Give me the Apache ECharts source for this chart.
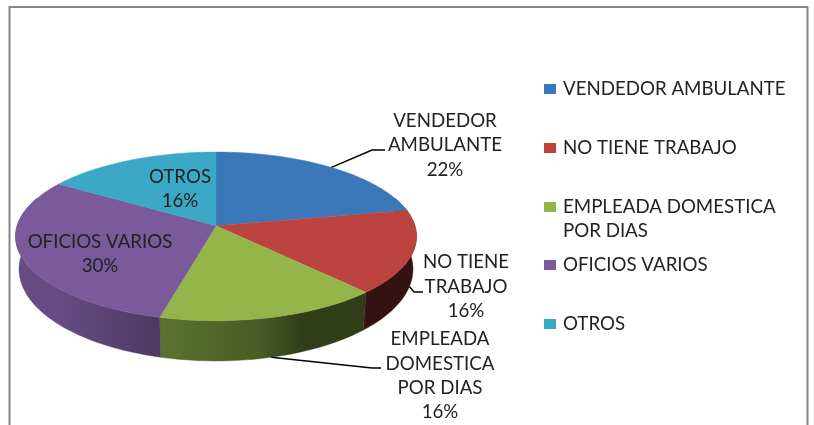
<!DOCTYPE html>
<html><head><meta charset="utf-8">
<style>html,body{margin:0;padding:0;background:#fff}#c{width:814px;height:425px;filter:blur(0.45px)}</style>
<script src="https://cdn.jsdelivr.net/npm/echarts@6/dist/echarts.min.js"></script>
</head><body><div id="c"></div>
<script>
const categories = ['VENDEDOR AMBULANTE','NO TIENE TRABAJO','EMPLEADA DOMESTICA POR DIAS','OFICIOS VARIOS','OTROS'];
const shares = [22,16,16,30,16];
const colors = ['#3b78b9','#bd4340','#94b54a','#7a5a9b','#3ba8c5'];
const sliceLabels = ['VENDEDOR\nAMBULANTE','NO TIENE\nTRABAJO','EMPLEADA\nDOMESTICA\nPOR DIAS','OFICIOS VARIOS','OTROS'];

const FONT = '"Lato","Open Sans",sans-serif';
const labelPos = [[445,145.2],[466,286.7],[440,375.7],[100,253.7],[180,188.7]];
const leaders = [[[372,150],[385,150]],[[414,292],[423,292]],[[372,368],[381,368]],null,null];
const legendTop = [88,147,206,264,323];

// perspective projection of the pie's circular rim
const APEX=[216,225.7], A=198.9, B=83, K=0.1263, LOWER_SX=0.9825, LOWER_SY=1.089, LOWER_D=31.8;
function rim(deg,lower){
  const t=deg*Math.PI/180,u=Math.sin(t),v=-Math.cos(t),d=1-K*v;
  const X=A*u/d,Y=B*v/d;
  return lower?[APEX[0]+LOWER_SX*X,APEX[1]+LOWER_D+LOWER_SY*Y]:[APEX[0]+X,APEX[1]+Y];
}
const shadeStops=[[15,.84],[60,.84],[100,.76],[160,.63],[260,.5],[300,.34],[364,.33],[367,.27],[416,.27]];
function shade(hex,f){
  const n=parseInt(hex.slice(1),16);
  return 'rgb('+[(n>>16)&255,(n>>8)&255,n&255].map(c=>Math.round(c*f)).join(',')+')';
}
function wallFill(hex){
  const x0=shadeStops[0][0],x1=shadeStops[shadeStops.length-1][0];
  return {type:'linear',global:true,x:x0,y:0,x2:x1,y2:0,
    colorStops:shadeStops.map(s=>({offset:(s[0]-x0)/(x1-x0),color:shade(hex,s[1])}))};
}
const VIS0=70,VIS1=290;
function arc(a,b,lower){const pts=[],n=Math.max(2,Math.ceil((b-a)/1.5));
  for(let i=0;i<=n;i++)pts.push(rim(a+(b-a)*i/n,lower));return pts;}

const total=shares.reduce((a,b)=>a+b,0);
let acc=0;
const series=categories.map((name,i)=>{
  const start=acc;acc+=shares[i];
  return {type:'custom',name,coordinateSystem:'none',itemStyle:{color:colors[i]},
    data:[[start,shares[i]]],
    renderItem(p,api){
      const a=api.value(0)/total*360,b=a+api.value(1)/total*360,mid=(a+b)/2,kids=[];
      const wa=Math.max(a,VIS0),wb=Math.min(b,VIS1);
      if(wb>wa){
        const pts=arc(wa,wb,false).concat(arc(wa,wb,true).reverse());
        const f=wallFill(colors[i]);
        kids.push({type:'polygon',shape:{points:pts},style:{fill:f,stroke:f,lineWidth:.4},z2:1});
      }
      kids.push({type:'polygon',shape:{points:[APEX].concat(arc(a,b,false))},
        style:{fill:colors[i],stroke:colors[i],lineWidth:.4},z2:2});
      if(leaders[i]){
        const anchor=rim(mid,i!==0);
        kids.push({type:'polyline',shape:{points:[anchor].concat(leaders[i])},
          style:{stroke:'#000',lineWidth:1.5,fill:null},z2:3});
      }
      kids.push({type:'text',z2:4,style:{text:sliceLabels[i]+'\n'+api.value(1)+'%',
        x:labelPos[i][0],y:labelPos[i][1],align:'center',verticalAlign:'middle',
        font:'18.7px '+FONT,lineHeight:24.3,fill:'#222'}});
      return {type:'group',children:kids};
    }};
});

const legends=categories.map((name,i)=>({
  data:[name],orient:'vertical',left:544,top:legendTop[i]-(i===2?35:11),padding:0,
  itemWidth:12,itemHeight:10,itemGap:0,icon:'rect',selectedMode:false,
  formatter:n=>n==='EMPLEADA DOMESTICA POR DIAS'?' \nEMPLEADA DOMESTICA\nPOR DIAS':n,
  textStyle:{fontFamily:FONT,fontSize:18.7,color:'#222',lineHeight:24,padding:[0,0,0,2]}
}));

const chart=echarts.init(document.getElementById('c'),null,{renderer:'canvas'});
chart.setOption({animation:false,backgroundColor:'#fff',
  graphic:[{type:'rect',silent:true,z:0,shape:{x:9.5,y:7,width:798,height:500},
    style:{fill:'#fff',stroke:'#868686',lineWidth:2}}],
  legend:legends,series});
</script></body></html>
